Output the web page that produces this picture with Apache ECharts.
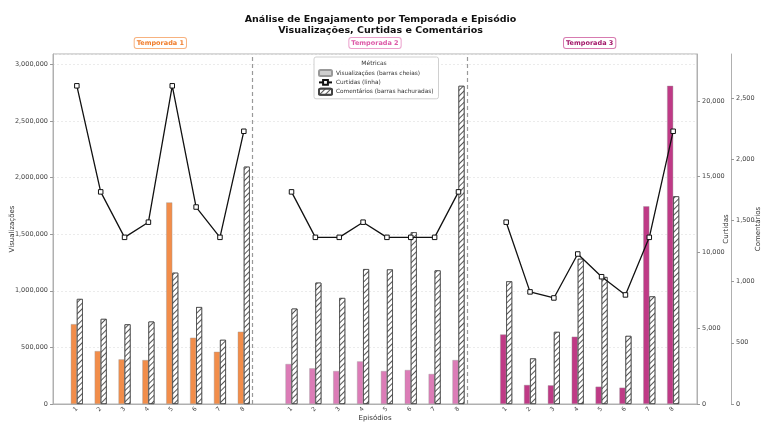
<!DOCTYPE html>
<html>
<head>
<meta charset="utf-8">
<script src="https://cdn.jsdelivr.net/npm/echarts@6/dist/echarts.min.js"></script>
<style>
  html, body { margin: 0; padding: 0; background: #fff; }
  #chart { width: 761px; height: 422px; }
</style>
</head>
<body>
<div id="chart"></div>
<script>
const seasons = ['Temporada 1', 'Temporada 2', 'Temporada 3'];
const episodes = ['1', '2', '3', '4', '5', '6', '7', '8'];

// Visualizações (barras cheias)
const viewsS1 = [705000, 467000, 394000, 388000, 1780000, 585000, 461000, 638000];
const viewsS2 = [353000, 315000, 291000, 376000, 291000, 300000, 265000, 388000];
const viewsS3 = [614000, 168000, 165000, 594000, 153000, 144000, 1746000, 2810000];

// Curtidas (linha)
const likesS1 = [21000, 14000, 11000, 12000, 21000, 13000, 11000, 18000];
const likesS2 = [14000, 11000, 11000, 12000, 11000, 11000, 11000, 14000];
const likesS3 = [12000, 7400, 7000, 9900, 8400, 7200, 11000, 18000];

// Comentários (barras hachuradas)
const commentsS1 = [858, 695, 651, 673, 1072, 792, 524, 1938];
const commentsS2 = [779, 991, 866, 1102, 1099, 1403, 1091, 2598];
const commentsS3 = [1002, 372, 589, 1186, 1037, 556, 879, 1696];

const views = [viewsS1, viewsS2, viewsS3];
const likes = [likesS1, likesS2, likesS3];
const comments = [commentsS1, commentsS2, commentsS3];

const barColors = ['#F28D4A', '#DC7CB7', '#BF3A86'];
const labelColors = ['#F07D2C', '#DD5AA8', '#A3186A'];
const labelBorders = ['#F7B27F', '#EBA0CC', '#D77BB0'];

const FONT = 'DejaVu Sans';
const SLOT = episodes.length + 1; // one empty slot between seasons

// posição no eixo x de cada episódio
const xPos = (s, e) => s * SLOT + e;

const viewsData = [];
const likesData = [];
const commentsData = [];
seasons.forEach((_, s) => {
    episodes.forEach((_, e) => {
        viewsData.push({ value: [xPos(s, e), views[s][e]], itemStyle: { color: barColors[s] } });
        likesData.push([xPos(s, e), likes[s][e]]);
        commentsData.push([xPos(s, e), comments[s][e]]);
    });
    likesData.push([xPos(s, episodes.length), '-']); // quebra a linha entre temporadas
});

const fmt = v => Math.round(v).toLocaleString('en-US');

const yAxisBase = {
    type: 'value',
    min: 0,
    nameLocation: 'middle',
    nameRotate: 90,
    nameMoveOverlap: false,
    nameTextStyle: { fontFamily: FONT, fontSize: 7, color: '#333' },
    axisLine: { show: true, onZero: false, lineStyle: { color: '#b0b0b0' } },
    axisTick: { show: true, length: 3, lineStyle: { color: '#999' } },
    axisLabel: { fontSize: 6.5, color: '#444', margin: 5, formatter: fmt, showMaxLabel: false },
    splitLine: { show: false }
};

const chart = echarts.init(document.getElementById('chart'));

const option = {
    animation: false,
    textStyle: { fontFamily: FONT },
    title: [
        {
            text: 'Análise de Engajamento por Temporada e Episódio',
            left: 'center',
            top: 10,
            textStyle: { fontFamily: FONT, fontSize: 9.5, fontWeight: 'bold', color: '#111' }
        },
        {
            text: 'Visualizações, Curtidas e Comentários',
            left: 'center',
            top: 21,
            textStyle: { fontFamily: FONT, fontSize: 9.5, fontWeight: 'bold', color: '#111' }
        }
    ],
    legend: {
        orient: 'vertical',
        left: 314,
        top: 57,
        padding: [12, 5, 3, 4],
        itemGap: 2,
        itemWidth: 13,
        itemHeight: 6,
        backgroundColor: 'rgba(255,255,255,0.9)',
        borderColor: '#d0d0d0',
        borderWidth: 1,
        borderRadius: 2,
        textStyle: { fontFamily: FONT, fontSize: 5.8, color: '#333', padding: [0, 0, 0, -1] },
        data: ['Visualizações (barras cheias)', 'Curtidas (linha)', 'Comentários (barras hachuradas)']
    },
    grid: {
        left: 53, right: 64, top: 54, bottom: 18,
        outerBoundsMode: 'none',
        containLabel: false,
        show: true, borderColor: '#b0b0b0', borderWidth: 1
    },
    xAxis: {
        type: 'value',
        min: -1,
        max: seasons.length * SLOT - 1,
        interval: 1,
        name: 'Episódios',
        nameLocation: 'middle',
        nameMoveOverlap: false,
        nameGap: 11,
        nameTextStyle: { fontFamily: FONT, fontSize: 7, color: '#333' },
        axisLine: { show: true, onZero: false, lineStyle: { color: '#b0b0b0' } },
        axisTick: { show: false },
        splitLine: { show: false },
        axisLabel: {
            rotate: 45,
            fontSize: 6,
            color: '#444',
            margin: 4,
            formatter: v => {
                const e = v % SLOT;
                return (v >= 0 && e < episodes.length) ? episodes[e] : '';
            }
        }
    },
    yAxis: [
        Object.assign({}, yAxisBase, {
            max: 3091000,
            interval: 500000,
            name: 'Visualizações',
            nameGap: 37,
            splitLine: { show: true, lineStyle: { color: '#e6e6e6', type: [2, 2], width: 0.8 } }
        }),
        Object.assign({}, yAxisBase, {
            position: 'right',
            max: 23100,
            interval: 5000,
            name: 'Curtidas',
            nameGap: 26
        }),
        Object.assign({}, yAxisBase, {
            position: 'right',
            offset: 34,
            max: 2858,
            interval: 500,
            name: 'Comentários',
            nameGap: 24
        })
    ],
    series: [
        {
            name: 'Visualizações (barras cheias)',
            type: 'bar',
            yAxisIndex: 0,
            barWidth: 6,
            barGap: '0%',
            itemStyle: { color: '#cfcfcf', borderColor: '#999', borderWidth: 0.4 },
            data: viewsData,
            markLine: {
                silent: true,
                symbol: ['none', 'none'],
                label: { show: false },
                lineStyle: { color: '#999', type: [4, 3], width: 1.2 },
                data: [{ xAxis: SLOT - 1.5 }, { xAxis: 2 * SLOT - 1.5 }]
            }
        },
        {
            name: 'Comentários (barras hachuradas)',
            type: 'bar',
            yAxisIndex: 2,
            barWidth: 6,
            barGap: '0%',
            itemStyle: {
                color: '#ffffff',
                borderColor: '#444',
                borderWidth: 0.8,
                decal: {
                    symbol: 'rect',
                    symbolSize: 1,
                    rotation: -Math.PI / 4,
                    dashArrayX: [1, 0],
                    dashArrayY: [1, 3],
                    color: '#555',
                    backgroundColor: '#ffffff'
                }
            },
            data: commentsData
        },
        {
            name: 'Curtidas (linha)',
            type: 'line',
            yAxisIndex: 1,
            z: 5,
            symbol: 'rect',
            symbolSize: 4.5,
            connectNulls: false,
            lineStyle: { color: '#111', width: 1.3 },
            itemStyle: { color: '#ffffff', borderColor: '#111', borderWidth: 1 },
            data: likesData
        }
    ]
};

chart.setOption(option);

// rótulos das temporadas centrados sobre cada grupo e título da legenda
const overlay = seasons.map((name, s) => {
    const cx = chart.convertToPixel({ xAxisIndex: 0 }, xPos(s, (episodes.length - 1) / 2));
    return {
        type: 'text',
        x: cx,
        y: 43,
        z: 10,
        style: {
            text: name,
            align: 'center',
            verticalAlign: 'middle',
            fontFamily: FONT,
            fontSize: 6.5,
            fontWeight: 'bold',
            fill: labelColors[s],
            backgroundColor: '#fff',
            borderColor: labelBorders[s],
            borderWidth: 1,
            borderRadius: 2,
            padding: [2, 2, 1, 2]
        }
    };
});

overlay.push({
    type: 'text',
    x: 374,
    y: 63,
    z: 100,
    style: {
        text: 'Métricas',
        align: 'center',
        verticalAlign: 'middle',
        fontFamily: FONT,
        fontSize: 6,
        fill: '#333'
    }
});

chart.setOption({ graphic: overlay });
</script>
</body>
</html>
